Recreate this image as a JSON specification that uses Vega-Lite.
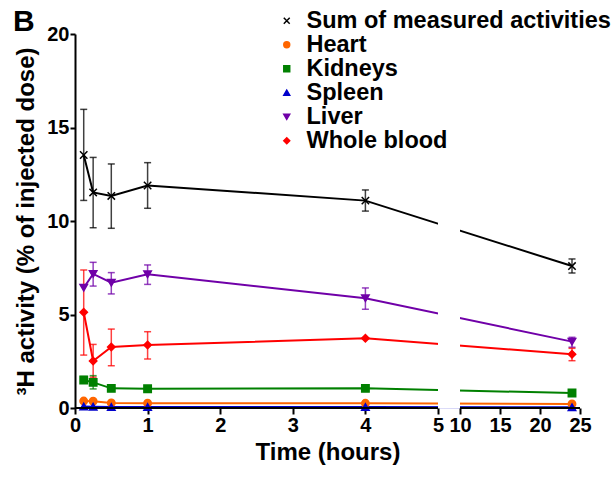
{
  "$schema": "https://vega.github.io/schema/vega-lite/v6.json",
  "width": 507,
  "height": 374,
  "autosize": {"type": "none"},
  "padding": {"left": 75, "top": 34, "right": 29, "bottom": 69},
  "background": "white",
  "title": {"text": "B", "anchor": "start", "frame": "group", "fontSize": 30, "font": "Liberation Sans", "fontWeight": "bold", "dx": -62, "offset": -28, "color": "black"},
  "config": {"view": {"stroke": null}, "font": "Liberation Sans"},
  "datasets": {
    "pts": [
      {"s": "Sum of measured activities", "t": 0.12, "v": 13.53},
      {"s": "Sum of measured activities", "t": 0.25, "v": 11.53},
      {"s": "Sum of measured activities", "t": 0.5, "v": 11.34},
      {"s": "Sum of measured activities", "t": 1, "v": 11.9},
      {"s": "Sum of measured activities", "t": 4, "v": 11.09},
      {"s": "Sum of measured activities", "t": 24, "v": 7.59},
      {"s": "Heart", "t": 0.12, "v": 0.37},
      {"s": "Heart", "t": 0.25, "v": 0.36},
      {"s": "Heart", "t": 0.5, "v": 0.27},
      {"s": "Heart", "t": 1, "v": 0.26},
      {"s": "Heart", "t": 4, "v": 0.25},
      {"s": "Heart", "t": 24, "v": 0.22},
      {"s": "Kidneys", "t": 0.12, "v": 1.5},
      {"s": "Kidneys", "t": 0.25, "v": 1.37},
      {"s": "Kidneys", "t": 0.5, "v": 1.05},
      {"s": "Kidneys", "t": 1, "v": 1.03},
      {"s": "Kidneys", "t": 4, "v": 1.05},
      {"s": "Kidneys", "t": 24, "v": 0.8},
      {"s": "Spleen", "t": 0.12, "v": 0.08},
      {"s": "Spleen", "t": 0.25, "v": 0.07},
      {"s": "Spleen", "t": 0.5, "v": 0.05},
      {"s": "Spleen", "t": 1, "v": 0.05},
      {"s": "Spleen", "t": 4, "v": 0.05},
      {"s": "Spleen", "t": 24, "v": 0.04},
      {"s": "Liver", "t": 0.12, "v": 6.43},
      {"s": "Liver", "t": 0.25, "v": 7.17},
      {"s": "Liver", "t": 0.5, "v": 6.7},
      {"s": "Liver", "t": 1, "v": 7.15},
      {"s": "Liver", "t": 4, "v": 5.87},
      {"s": "Liver", "t": 24, "v": 3.55},
      {"s": "Whole blood", "t": 0.12, "v": 5.12},
      {"s": "Whole blood", "t": 0.25, "v": 2.51},
      {"s": "Whole blood", "t": 0.5, "v": 3.26},
      {"s": "Whole blood", "t": 1, "v": 3.37},
      {"s": "Whole blood", "t": 4, "v": 3.73},
      {"s": "Whole blood", "t": 24, "v": 2.87}
    ],
    "err": [
      {"s": "Sum of measured activities", "t": 0.12, "lo": 11.1, "hi": 15.97},
      {"s": "Sum of measured activities", "t": 0.25, "lo": 9.64, "hi": 13.4},
      {"s": "Sum of measured activities", "t": 0.5, "lo": 9.61, "hi": 13.05},
      {"s": "Sum of measured activities", "t": 1, "lo": 10.68, "hi": 13.12},
      {"s": "Sum of measured activities", "t": 4, "lo": 10.53, "hi": 11.66},
      {"s": "Sum of measured activities", "t": 24, "lo": 7.22, "hi": 7.97},
      {"s": "Kidneys", "t": 0.12, "lo": 1.33, "hi": 1.68},
      {"s": "Kidneys", "t": 0.25, "lo": 1.02, "hi": 1.73},
      {"s": "Liver", "t": 0.25, "lo": 6.52, "hi": 7.79},
      {"s": "Liver", "t": 0.5, "lo": 6.1, "hi": 7.24},
      {"s": "Liver", "t": 1, "lo": 6.61, "hi": 7.65},
      {"s": "Liver", "t": 4, "lo": 5.28, "hi": 6.42},
      {"s": "Liver", "t": 24, "lo": 3.25, "hi": 3.78},
      {"s": "Whole blood", "t": 0.12, "lo": 2.83, "hi": 7.38},
      {"s": "Whole blood", "t": 0.25, "lo": 1.65, "hi": 3.4},
      {"s": "Whole blood", "t": 0.5, "lo": 2.26, "hi": 4.22},
      {"s": "Whole blood", "t": 1, "lo": 2.62, "hi": 4.08},
      {"s": "Whole blood", "t": 24, "lo": 2.53, "hi": 3.19}
    ]
  },
  "layer": [
    {
      "data": {"name": "pts"},
      "mark": {"type": "line", "strokeWidth": 2},
      "encoding": {
        "x": {"field": "t", "type": "quantitative",
          "scale": {"type": "linear", "domain": [0, 5, 10, 25], "range": [0, 363, 385, 505], "nice": false, "zero": false},
          "axis": {"values": [0, 1, 2, 3, 4, 5, 10, 15, 20, 25], "domain": false, "grid": false, "tickSize": 6, "tickWidth": 2, "tickColor": "black",
            "labelFontSize": 20, "labelFontWeight": "bold", "labelColor": "black", "labelPadding": 1, "labelOverlap": false, "labelFlush": false, "format": "d",
            "title": "Time (hours)", "titleFontSize": 24, "titleFontWeight": "bold", "titleColor": "black", "titlePadding": 5}},
        "y": {"field": "v", "type": "quantitative",
          "scale": {"domain": [0, 20], "nice": false, "zero": true},
          "axis": {"values": [0, 5, 10, 15, 20], "grid": false, "domainWidth": 2, "domainColor": "black", "tickSize": 5, "tickWidth": 2, "tickColor": "black",
            "labelFontSize": 20, "labelFontWeight": "bold", "labelColor": "black", "labelPadding": 1,
            "title": "³H activity (% of injected dose)", "titleFontSize": 24, "titleFontWeight": "bold", "titleColor": "black", "titlePadding": 8}},
        "color": {"field": "s", "type": "nominal", "legend": null,
          "scale": {"domain": ["Heart", "Kidneys", "Liver", "Spleen", "Sum of measured activities", "Whole blood"],
            "range": ["#FF6600", "#008000", "#7000A8", "#0000CC", "#000000", "#FF0000"]}}
      }
    },
    {
      "data": {"name": "err"},
      "mark": {"type": "rule", "strokeWidth": 1.5, "opacity": 0.75},
      "encoding": {
        "x": {"field": "t", "type": "quantitative", "axis": null},
        "y": {"field": "lo", "type": "quantitative"},
        "y2": {"field": "hi"},
        "color": {"field": "s", "type": "nominal", "legend": null}
      }
    },
    {
      "data": {"name": "err"},
      "mark": {"type": "tick", "orient": "horizontal", "size": 7, "thickness": 1.5, "opacity": 0.75},
      "encoding": {
        "x": {"field": "t", "type": "quantitative", "axis": null},
        "y": {"field": "lo", "type": "quantitative"},
        "color": {"field": "s", "type": "nominal", "legend": null}
      }
    },
    {
      "data": {"name": "err"},
      "mark": {"type": "tick", "orient": "horizontal", "size": 7, "thickness": 1.5, "opacity": 0.75},
      "encoding": {
        "x": {"field": "t", "type": "quantitative", "axis": null},
        "y": {"field": "hi", "type": "quantitative"},
        "color": {"field": "s", "type": "nominal", "legend": null}
      }
    },
    {
      "data": {"name": "pts"},
      "mark": {"type": "point", "filled": true, "opacity": 1, "size": 55, "strokeWidth": 1.5},
      "encoding": {
        "x": {"field": "t", "type": "quantitative", "axis": null},
        "y": {"field": "v", "type": "quantitative"},
        "fill": {"field": "s", "type": "nominal",
          "scale": {"domain": ["Sum of measured activities", "Heart", "Kidneys", "Spleen", "Liver", "Whole blood"],
            "range": ["#000000", "#FF6600", "#008000", "#0000CC", "#7000A8", "#FF0000"]},
          "legend": {"title": null, "orient": "none", "legendX": 200, "legendY": -25, "padding": 0, "rowPadding": -1.9,
            "labelFontSize": 23.5, "labelFontWeight": "bold", "labelColor": "black", "labelLimit": 400, "labelOffset": 8,
            "symbolSize": 35, "symbolStrokeWidth": 1.5}},
        "stroke": {"field": "s", "type": "nominal",
          "scale": {"domain": ["Sum of measured activities", "Heart", "Kidneys", "Spleen", "Liver", "Whole blood"],
            "range": ["#000000", "#FF6600", "#008000", "#0000CC", "#7000A8", "#FF0000"]}},
        "shape": {"field": "s", "type": "nominal",
          "scale": {"domain": ["Sum of measured activities", "Heart", "Kidneys", "Spleen", "Liver", "Whole blood"],
            "range": ["M-1,-1L1,1M-1,1L1,-1", "circle", "square", "triangle-up", "triangle-down", "diamond"]}}
      }
    },
    {
      "data": {"values": [{}]},
      "mark": {"type": "rect", "color": "white"},
      "encoding": {
        "x": {"datum": 5, "type": "quantitative", "axis": null},
        "x2": {"datum": 10},
        "y": {"datum": 0, "type": "quantitative"},
        "y2": {"datum": 20}
      }
    },
    {
      "data": {"values": [{}]},
      "mark": {"type": "rule", "strokeWidth": 2, "color": "black"},
      "encoding": {
        "x": {"datum": 0, "type": "quantitative", "axis": null},
        "x2": {"datum": 5},
        "y": {"datum": 0, "type": "quantitative"}
      }
    },
    {
      "data": {"values": [{}]},
      "mark": {"type": "rule", "strokeWidth": 2, "color": "black"},
      "encoding": {
        "x": {"datum": 10, "type": "quantitative", "axis": null},
        "x2": {"datum": 25},
        "y": {"datum": 0, "type": "quantitative"}
      }
    }
  ],
  "resolve": {"axis": {"x": "independent"}}
}
